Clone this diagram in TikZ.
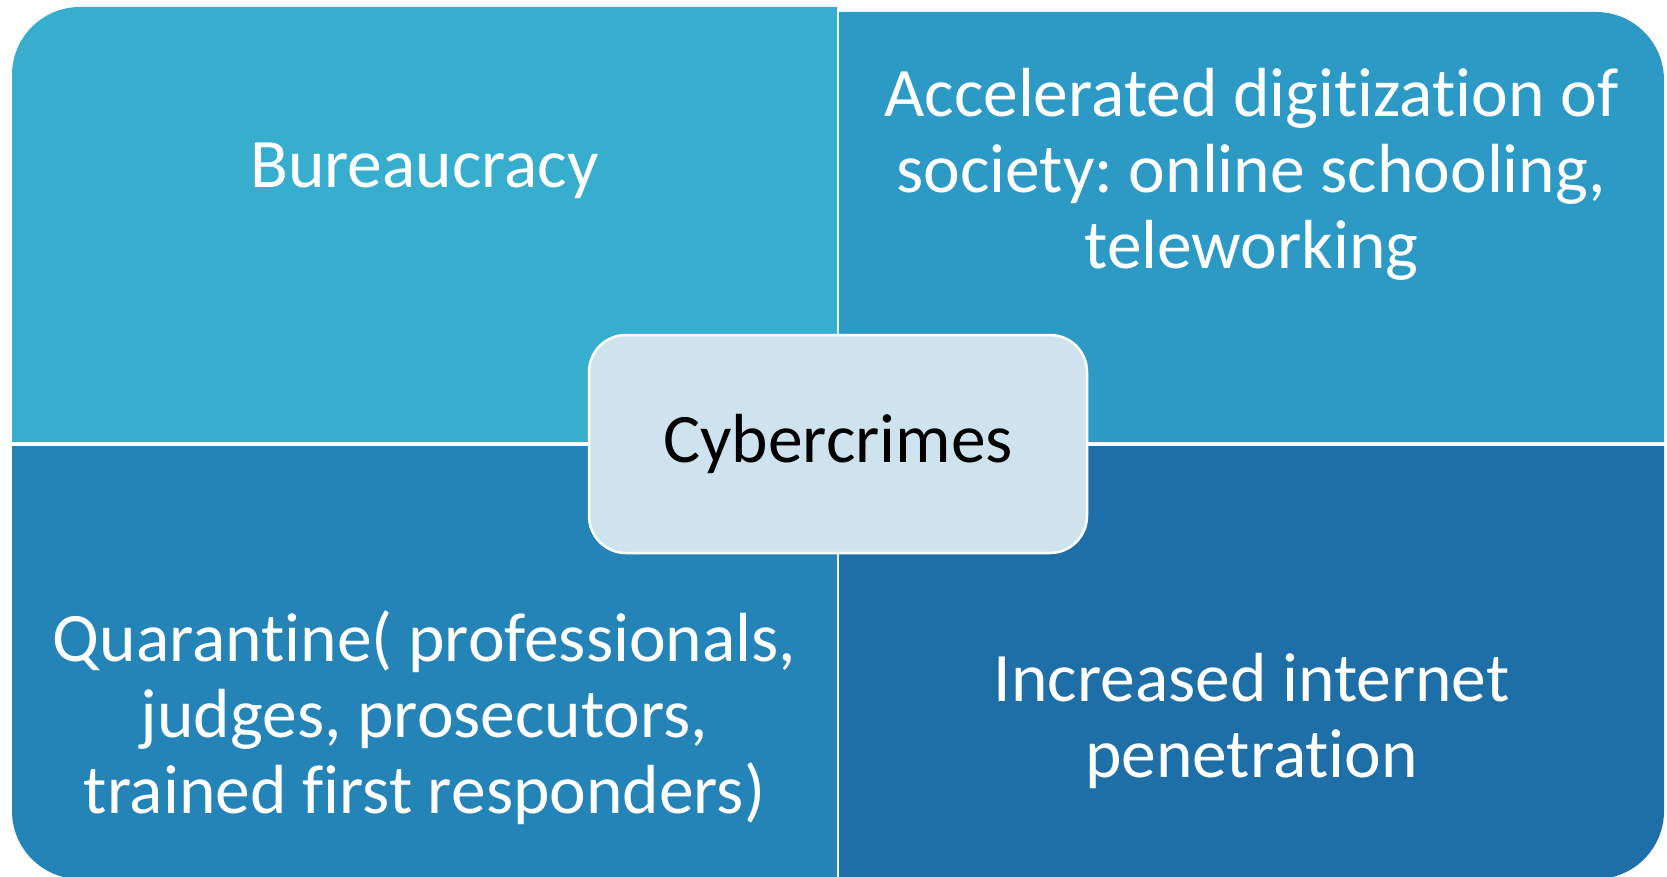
\documentclass[tikz,border=0pt]{standalone}
\usepackage{fontspec}
\setmainfont{Carlito}[Ligatures=NoCommon]
\frenchspacing
\definecolor{quadA}{HTML}{37AECE}
\definecolor{quadB}{HTML}{2D9AC6}
\definecolor{quadC}{HTML}{2584B7}
\definecolor{quadD}{HTML}{1E6FA7}
\definecolor{hubfill}{HTML}{CFE3EE}
\begin{document}
\begin{tikzpicture}[x=1pt,y=-1pt,
  qtext/.style={text=white, align=center, anchor=base, inner sep=0pt,
    font=\fontsize{69.5}{76}\selectfont},
  hub/.style={fill=hubfill, draw=white, line width=2.5pt, rounded corners=37pt,
    minimum width=498pt, minimum height=218pt, inner sep=0pt,
    text=black, font=\fontsize{69.5}{78}\selectfont}]
\useasboundingbox (0,0) rectangle (1667,877);
\clip (0,0) rectangle (1667,877);
\fill[white] (0,0) rectangle (1667,877);

% four quadrants, each with its outer corner rounded
\fill[quadA] (837,442) -- (12,442) -- (12,75)
  .. controls (12,37.4) and (42.4,7) .. (80,7) -- (837,7) -- cycle;
\fill[quadB] (839,12) -- (1596,12)
  .. controls (1633.6,12) and (1664,42.4) .. (1664,80) -- (1664,442) -- (839,442) -- cycle;
\fill[quadC] (12,446) -- (837,446) -- (837,879) -- (80,879)
  .. controls (42.4,879) and (12,848.6) .. (12,811) -- cycle;
\fill[quadD] (839,446) -- (1664,446) -- (1664,811)
  .. controls (1664,848.6) and (1633.6,879) .. (1596,879) -- (839,879) -- cycle;

% quadrant labels (anchored at the baseline of their last line)
\node[qtext] (bur) at (424.5,188) {Bureaucracy};
\node[qtext] (dig) at (1251.5,269) {Accelerated digitization of\\society: online schooling,\\teleworking};
\node[qtext] (qua) at (424.5,813) {Quarantine( professionals,\\judges, prosecutors,\\trained first responders)};
\node[qtext] (net) at (1251.5,777) {Increased internet\\penetration};

% central topic
\node[hub] (cyber) at (838,444) {\raisebox{-2pt}{Cybercrimes}};
\end{tikzpicture}
\end{document}
